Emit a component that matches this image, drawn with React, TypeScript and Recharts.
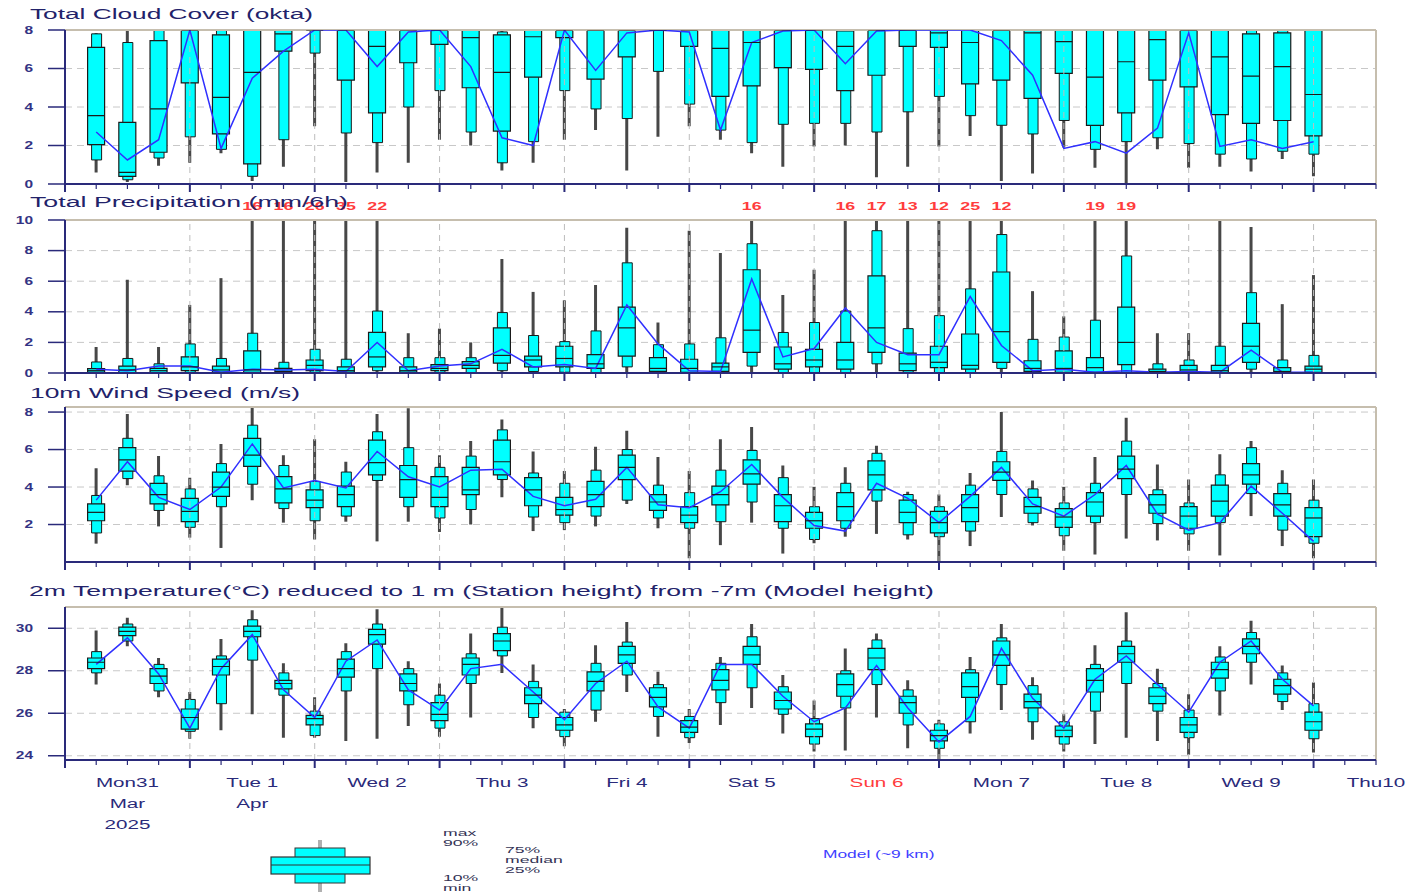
import { Bar, CartesianGrid, ComposedChart, Line, ReferenceLine, Scatter, XAxis, YAxis } from 'recharts';

const W = 1412;
const NAVY = '#2a2a7a';
const FRAME = '#c6beae';
const CYAN = '#00ffff';
const BLUE = '#3030ff';

// forecast steps (hours after Mon 31 Mar 00 UTC)
const hours = [
  6, 12, 18, 24, 30, 36, 42, 48, 54, 60, 66, 72, 78, 84, 90, 96, 102, 108, 114, 120,
  126, 132, 138, 144, 150, 156, 162, 168, 174, 180, 186, 192, 198, 204, 210, 216, 222, 228, 234, 240,
];
const hourTicks = Array.from({ length: 43 }, (_, i) => i * 6);
const dayBounds = [24, 48, 72, 96, 120, 144, 168, 192, 216, 240];
const dayNoon = [12, 36, 60, 84, 108, 132, 156, 180, 204, 228, 252];
const dayLabels = ['Mon31', 'Tue 1', 'Wed 2', 'Thu 3', 'Fri 4', 'Sat 5', 'Sun 6', 'Mon 7', 'Tue 8', 'Wed 9', 'Thu10'];
const extraLines: Record<string, string[]> = { Mon31: ['Mar', '2025'], 'Tue 1': ['Apr'] };
const redDays = ['Sun 6'];

// Total cloud cover (okta)
const cloudMin = [0.6, 0.1, 0.95, 1.1, 1.6, 0.15, 0.9, 3.0, 0.1, 0.6, 1.1, 2.3, 2.0, 0.7, 1.1, 2.3, 2.8, 0.7, 2.45, 3.0, 2.3, 1.6, 0.9, 1.95, 2.0, 0.35, 0.9, 1.95, 2.5, 0.15, 0.55, 1.9, 0.85, 0, 1.8, 0.85, 0.9, 0.65, 1.3, 0.4];
const cloudP10 = [1.25, 0.22, 1.35, 2.45, 1.8, 0.4, 2.3, 6.8, 2.65, 2.15, 4.0, 4.85, 2.7, 1.1, 2.2, 4.85, 3.9, 3.4, 5.85, 4.15, 2.8, 2.15, 3.1, 3.15, 3.15, 2.7, 3.75, 4.55, 3.55, 3.05, 2.6, 3.3, 1.8, 2.2, 2.4, 2.1, 1.55, 1.3, 1.7, 1.55];
const cloudP25 = [2.05, 0.4, 1.65, 5.25, 2.6, 1.05, 6.9, 8, 5.4, 3.7, 6.3, 7.25, 5.0, 2.75, 5.55, 7.6, 5.45, 6.6, 8, 7.15, 4.55, 5.1, 6.05, 5.95, 4.85, 5.65, 7.15, 7.1, 5.2, 5.4, 4.45, 5.75, 3.05, 3.7, 5.4, 5.05, 3.6, 3.15, 3.3, 2.5];
const cloudMed = [3.55, 0.6, 3.9, 8, 4.5, 5.8, 7.8, 8, 8, 7.15, 8, 8, 7.6, 5.8, 7.65, 8, 8, 8, 8, 8, 7.05, 7.35, 8, 8, 7.15, 8, 8, 7.85, 7.35, 8, 7.85, 7.4, 5.55, 6.35, 7.5, 8, 6.6, 5.6, 6.1, 4.65];
const cloudP75 = [7.1, 3.2, 7.45, 8, 7.75, 8, 8, 8, 8, 8, 8, 8, 8, 7.75, 8, 8, 8, 8, 8, 8, 8, 8, 8, 8, 7.95, 8, 8, 8, 8, 8, 8, 8, 8, 8, 8, 8, 8, 7.8, 7.85, 8];
const cloudP90 = [7.8, 7.35, 8, 8, 8, 8, 8, 8, 8, 8, 8, 8, 8, 7.9, 8, 8, 8, 8, 8, 8, 8, 8, 8, 8, 8, 8, 8, 8, 8, 8, 8, 8, 8, 8, 8, 8, 8, 8, 8, 8];
const cloudMax = [7.85, 8, 8, 8, 8, 8, 8, 8, 8, 8, 8, 8, 8, 8, 8, 8, 8, 8, 8, 8, 8, 8, 8, 8, 8, 8, 8, 8, 8, 8, 8, 8, 8, 8, 8, 8, 8, 8, 8, 8];
const cloudModel = [2.7, 1.25, 2.3, 8, 1.85, 5.5, 6.9, 8, 8, 6.1, 7.9, 8, 6.1, 2.4, 2.0, 8, 5.9, 7.85, 8, 7.9, 2.8, 7.35, 7.95, 8, 6.25, 7.95, 8, 8, 8, 7.45, 5.65, 1.85, 2.2, 1.6, 2.9, 7.85, 1.95, 2.3, 1.85, 2.2];

// Total precipitation (mm/6h)
const precMin = [0, 0, 0, 0, 0, 0, 0, 0, 0, 0, 0, 0, 0, 0, 0, 0, 0, 0, 0, 0, 0, 0, 0, 0, 0, 0, 0, 0, 0, 0, 0, 0, 0, 0, 0, 0, 0, 0, 0, 0];
const precP10 = [0, 0, 0, 0, 0, 0, 0, 0, 0, 0.15, 0, 0, 0, 0.15, 0.1, 0.05, 0, 0.4, 0, 0, 0, 0.45, 0, 0, 0, 0.6, 0, 0, 0, 0.3, 0, 0, 0, 0, 0, 0, 0, 0.25, 0, 0];
const precP25 = [0.05, 0.02, 0.02, 0.15, 0.05, 0.05, 0.02, 0.15, 0.05, 0.4, 0.05, 0.15, 0.3, 0.65, 0.4, 0.4, 0.3, 1.1, 0.1, 0.05, 0.1, 1.35, 0.25, 0.4, 0.25, 1.35, 0.15, 0.35, 0.25, 0.7, 0.1, 0.05, 0.05, 0.55, 0.02, 0.05, 0.02, 0.7, 0.02, 0.05];
const precMed = [0.15, 0.2, 0.15, 0.4, 0.2, 0.2, 0.1, 0.5, 0.15, 1.05, 0.15, 0.3, 0.5, 1.15, 0.85, 0.95, 0.6, 2.95, 0.3, 0.3, 0.4, 2.8, 0.6, 0.85, 0.85, 2.95, 0.6, 0.7, 0.5, 2.7, 0.3, 0.3, 0.35, 2.0, 0.1, 0.2, 0.15, 1.75, 0.1, 0.25];
const precP75 = [0.28, 0.45, 0.3, 1.05, 0.45, 1.45, 0.3, 0.85, 0.4, 2.65, 0.4, 0.55, 0.75, 2.95, 1.1, 1.75, 1.2, 4.3, 1.0, 0.9, 0.65, 6.75, 1.7, 1.55, 2.0, 6.35, 1.3, 1.75, 2.55, 6.6, 0.8, 1.45, 1.0, 4.3, 0.25, 0.5, 0.5, 3.25, 0.35, 0.45];
const precP90 = [0.72, 0.95, 0.6, 1.9, 0.95, 2.6, 0.7, 1.55, 0.9, 4.05, 1.0, 1.0, 1.0, 3.95, 2.45, 2.05, 2.75, 7.2, 1.85, 1.9, 2.3, 8.45, 2.65, 3.3, 4.05, 9.3, 2.9, 3.75, 5.5, 9.05, 2.2, 2.35, 3.45, 7.65, 0.6, 0.85, 1.75, 5.25, 0.85, 1.15];
const precMax = [1.7, 6.1, 1.7, 4.45, 6.2, 16, 16, 26, 35, 22, 2.6, 2.9, 2.0, 7.45, 5.3, 4.75, 5.75, 9.5, 3.3, 9.3, 7.85, 16, 5.1, 6.75, 16, 17, 13, 12, 25, 12, 5.35, 3.7, 19, 19, 2.6, 2.6, 10, 9.55, 4.5, 6.4];
const precModel = [0.25, 0.15, 0.45, 0.45, 0.05, 0.25, 0.2, 0.25, 0.1, 2.0, 0.15, 0.45, 0.6, 1.55, 0.4, 0.55, 0.3, 4.45, 1.9, 0.15, 0.1, 6.15, 1.05, 1.6, 4.25, 2.0, 1.2, 1.2, 5.0, 1.8, 0.15, 0.25, 0.05, 0.15, 0.05, 0.1, 0.05, 1.5, 0.05, 0.05];

// 10m wind speed (m/s)
const windMin = [0.98, 4.1, 1.9, 1.3, 0.75, 3.3, 2.1, 1.2, 2.15, 1.1, 2.15, 1.6, 2.0, 3.45, 1.65, 1.7, 1.9, 3.1, 1.8, 0.2, 0.9, 2.1, 0.45, 1.0, 1.35, 1.5, 1.2, 0, 0.85, 2.4, 1.95, 0.6, 0.4, 1.25, 1.15, 0.6, 0.35, 2.45, 0.85, 0.2];
const windP10 = [1.55, 4.45, 2.75, 1.85, 2.95, 4.15, 2.85, 2.2, 2.45, 4.35, 2.95, 2.35, 2.8, 4.4, 2.4, 2.1, 2.45, 3.3, 2.35, 1.8, 2.15, 3.2, 1.8, 1.2, 1.8, 3.25, 1.45, 1.35, 1.65, 3.6, 2.1, 1.4, 2.1, 3.6, 2.05, 1.5, 2.1, 3.65, 1.7, 1.0];
const windP25 = [2.2, 4.85, 3.1, 2.15, 3.5, 5.1, 3.15, 2.9, 2.95, 4.65, 3.45, 2.95, 3.6, 4.65, 3.0, 2.5, 2.95, 4.4, 2.75, 2.1, 3.05, 4.15, 2.15, 1.8, 2.2, 3.85, 2.1, 1.55, 2.15, 4.35, 2.6, 1.85, 2.45, 4.45, 2.6, 1.8, 2.45, 4.15, 2.45, 1.35];
const windMed = [2.65, 5.45, 3.6, 2.7, 4.0, 5.7, 3.9, 3.3, 3.6, 5.3, 4.4, 3.45, 3.85, 5.35, 3.85, 2.8, 3.6, 5.05, 3.2, 2.5, 3.6, 4.7, 3.0, 2.2, 2.95, 4.65, 2.65, 2.1, 2.9, 4.8, 2.95, 2.4, 3.2, 4.95, 3.05, 2.45, 3.25, 4.65, 3.05, 2.35];
const windP75 = [3.1, 6.1, 4.2, 3.4, 4.8, 6.6, 4.55, 3.85, 4.05, 6.5, 5.15, 4.55, 5.05, 6.5, 4.5, 3.45, 4.3, 5.7, 3.6, 2.95, 4.05, 5.45, 3.6, 2.65, 3.7, 5.4, 3.3, 2.7, 3.6, 5.35, 3.45, 2.85, 3.7, 5.65, 3.6, 2.95, 4.1, 5.25, 3.65, 2.9];
const windP90 = [3.55, 6.6, 4.6, 3.9, 5.25, 7.3, 5.15, 4.3, 4.8, 6.95, 6.1, 5.05, 5.65, 7.05, 4.75, 4.2, 4.9, 6.0, 4.1, 3.7, 4.9, 5.95, 4.5, 2.95, 4.2, 5.8, 3.6, 2.95, 4.1, 5.9, 3.9, 3.15, 4.2, 6.45, 3.85, 3.15, 4.65, 6.1, 4.2, 3.3];
const windMax = [5.0, 7.9, 5.65, 4.5, 6.3, 8.25, 5.7, 6.55, 5.35, 7.9, 8.2, 5.7, 6.45, 7.6, 5.9, 4.85, 6.15, 7.0, 5.6, 4.85, 6.55, 7.2, 5.15, 4.0, 5.05, 6.2, 3.75, 3.6, 4.75, 8.0, 4.35, 4.0, 5.6, 7.7, 5.2, 4.4, 5.75, 6.45, 4.9, 4.4];
const windModel = [3.3, 5.35, 3.45, 2.8, 4.0, 6.3, 3.95, 4.35, 3.95, 5.9, 4.55, 4.0, 4.9, 4.95, 3.5, 3.0, 3.35, 5.05, 3.05, 2.9, 3.75, 5.2, 3.45, 1.95, 1.65, 4.2, 3.4, 2.1, 3.5, 5.05, 3.1, 2.45, 3.6, 5.15, 2.55, 1.7, 2.1, 4.05, 2.6, 1.1];

// 2m temperature (°C)
const tempMin = [27.35, 29.15, 26.75, 24.8, 25.2, 25.95, 24.85, 24.85, 24.7, 24.8, 25.4, 24.9, 25.8, 27.9, 25.3, 24.45, 25.6, 27.0, 24.9, 24.6, 25.45, 26.25, 25.05, 24.2, 24.25, 25.8, 24.35, 23.8, 25.05, 26.15, 24.75, 24.2, 24.55, 24.85, 24.7, 24.05, 25.9, 27.35, 26.15, 24.15];
const tempP10 = [27.9, 29.4, 27.05, 25.15, 26.45, 28.5, 26.85, 24.95, 27.05, 28.1, 26.4, 25.3, 27.4, 28.7, 25.8, 24.9, 26.15, 27.8, 25.85, 24.85, 26.5, 27.2, 25.95, 24.55, 26.25, 27.35, 25.45, 24.35, 25.6, 27.35, 25.6, 24.55, 26.1, 27.4, 26.1, 24.85, 27.05, 28.4, 26.55, 24.8];
const tempP25 = [28.1, 29.65, 27.4, 25.25, 27.8, 29.6, 27.15, 25.45, 27.7, 29.25, 27.05, 25.65, 27.8, 28.95, 26.45, 25.2, 27.05, 28.35, 26.3, 25.1, 27.1, 28.3, 26.2, 24.9, 26.8, 28.05, 26.0, 24.7, 26.75, 28.25, 26.25, 24.9, 27.0, 28.4, 26.45, 25.1, 27.65, 28.8, 26.9, 25.2];
const tempMed = [28.4, 29.85, 27.75, 25.8, 28.2, 29.85, 27.4, 25.75, 28.1, 29.7, 27.4, 25.95, 28.3, 29.4, 26.85, 25.45, 27.5, 28.75, 26.75, 25.35, 27.55, 28.75, 26.6, 25.25, 27.35, 28.6, 26.5, 24.95, 27.25, 28.75, 26.55, 25.2, 27.55, 28.8, 26.8, 25.45, 28.05, 29.15, 27.3, 25.6];
const tempP75 = [28.6, 30.05, 28.1, 26.2, 28.55, 30.1, 27.55, 25.9, 28.55, 29.95, 27.85, 26.5, 28.6, 29.75, 27.2, 25.8, 27.95, 29.15, 27.2, 25.65, 28.05, 29.15, 27.0, 25.5, 27.85, 29.05, 26.8, 25.2, 27.9, 29.4, 26.9, 25.4, 28.1, 29.15, 27.2, 25.8, 28.4, 29.5, 27.6, 26.05];
const tempP90 = [28.9, 30.2, 28.3, 26.65, 28.7, 30.4, 27.9, 26.1, 28.9, 30.2, 28.1, 26.85, 28.8, 30.05, 27.5, 26.05, 28.35, 29.35, 27.35, 25.85, 28.35, 29.6, 27.25, 25.75, 28.0, 29.45, 27.1, 25.5, 28.05, 29.55, 27.3, 25.6, 28.3, 29.4, 27.4, 26.15, 28.65, 29.8, 27.9, 26.45];
const tempMax = [29.9, 30.5, 28.6, 27.0, 29.5, 30.85, 28.35, 26.75, 29.3, 30.9, 28.45, 27.4, 29.75, 31.0, 28.3, 26.2, 29.2, 30.3, 27.95, 26.2, 28.65, 30.2, 27.8, 26.6, 29.05, 29.75, 27.55, 25.7, 28.65, 30.2, 27.7, 25.95, 29.2, 30.75, 28.1, 26.9, 29.15, 30.35, 28.25, 27.45];
const tempModel = [28.3, 29.55, 27.85, 25.3, 28.1, 29.7, 27.1, 25.8, 28.45, 29.45, 27.1, 26.15, 28.1, 28.3, 27.0, 25.7, 27.4, 28.45, 26.3, 25.3, 28.3, 28.3, 26.8, 25.6, 26.25, 28.25, 26.25, 24.65, 25.85, 29.05, 26.7, 25.3, 27.6, 28.7, 27.35, 26.05, 28.4, 29.4, 27.6, 26.35];

const cloudTicks = [0, 2, 4, 6, 8];
const precTicks = [0, 2, 4, 6, 8, 10];
const windTicks = [2, 4, 6, 8];
const tempTicks = [24, 26, 28, 30];

type Stats = {
  min: number[]; p10: number[]; p25: number[]; med: number[];
  p75: number[]; p90: number[]; max: number[]; model: number[];
};

type Row = { t: number; min: number; p10: number; p25: number; med: number; p75: number; p90: number; max: number; model: number };

const toRows = (s: Stats): Row[] =>
  hours.map((t, i) => ({
    t, min: s.min[i], p10: s.p10[i], p25: s.p25[i], med: s.med[i],
    p75: s.p75[i], p90: s.p90[i], max: s.max[i], model: s.model[i],
  }));

function HourTick(props: any) {
  const { x, y, payload, showDays } = props;
  const v = payload.value as number;
  const major = v % 24 === 0;
  const idx = dayNoon.indexOf(v);
  const label = idx >= 0 ? dayLabels[idx] : null;
  const color = label && redDays.includes(label) ? '#ff3c3c' : NAVY;
  const lines = label ? [label, ...(extraLines[label] ?? [])] : [];
  return (
    <g>
      <line x1={x} x2={x} y1={y} y2={y + (major ? 8 : 5)} stroke={NAVY} strokeWidth={major ? 2 : 1.2} />
      {showDays &&
        lines.map((l, k) => (
          <text
            key={l}
            transform={`translate(${x},${y + 27 + k * 21}) scale(1.65,1)`}
            textAnchor="middle"
            fontSize={12.5}
            fill={k === 0 ? color : NAVY}
          >
            {l}
          </text>
        ))}
    </g>
  );
}

function ValueTick(props: any) {
  const { x, y, payload } = props;
  return (
    <text transform={`translate(${x},${y + 3.5}) scale(1.55,1)`} textAnchor="end" fontSize={10} fontWeight="bold" fill="#333384">
      {payload.value}
    </text>
  );
}

function MedianMark(props: any) {
  const { cx, cy } = props;
  return <line x1={cx - 8.5} x2={cx + 8.5} y1={cy} y2={cy} stroke="#1a1a1a" strokeWidth={1.2} />;
}

function OverflowLabel(props: any) {
  const { cx, cy, payload } = props;
  return (
    <text transform={`translate(${cx},${cy - 10}) scale(1.7,1)`} textAnchor="middle" fontSize={10.5} fontWeight="bold" fill="#ff3c3c">
      {payload.label}
    </text>
  );
}

type PanelProps = {
  top: number;
  height: number;
  marginTop: number;
  axisHeight: number;
  domain: [number, number];
  ticks: number[];
  stats: Stats;
  overflowAt?: number;
  showDays?: boolean;
};

function Panel({ top, height, marginTop, axisHeight, domain, ticks, stats, overflowAt, showDays }: PanelProps) {
  const rows = toRows(stats);
  const labels =
    overflowAt === undefined
      ? []
      : rows.filter((r) => r.max > overflowAt).map((r) => ({ t: r.t, v: overflowAt, label: String(Math.round(r.max)) }));

  return (
    <div style={{ position: 'absolute', left: 0, top, width: W, height }}>
      <ComposedChart width={W} height={height} data={rows} margin={{ top: marginTop, right: 36, bottom: 0, left: 0 }}>
        <CartesianGrid vertical={false} stroke="#c8c8c8" strokeDasharray="7 5" />
        {dayBounds.map((d) => (
          <ReferenceLine key={d} x={d} stroke="#bdbdbd" strokeDasharray="6 5" />
        ))}
        <ReferenceLine y={domain[1]} stroke={FRAME} strokeWidth={2} />
        <ReferenceLine x={252} stroke={FRAME} strokeWidth={2} />
        <XAxis
          dataKey="t"
          type="number"
          domain={[0, 252]}
          ticks={hourTicks}
          interval={0}
          tickSize={0}
          tickMargin={0}
          tickLine={false}
          height={axisHeight}
          axisLine={{ stroke: NAVY, strokeWidth: 2 }}
          tick={(p: any) => <HourTick {...p} showDays={showDays} />}
        />
        <XAxis xAxisId="whisker" dataKey="t" type="number" domain={[0, 252]} hide />
        <XAxis xAxisId="outer" dataKey="t" type="number" domain={[0, 252]} hide />
        <XAxis xAxisId="inner" dataKey="t" type="number" domain={[0, 252]} hide />
        <YAxis
          type="number"
          domain={domain}
          ticks={ticks}
          interval={0}
          allowDataOverflow
          width={65}
          tickSize={17}
          tickMargin={15}
          axisLine={{ stroke: NAVY, strokeWidth: 2 }}
          tickLine={{ stroke: NAVY, strokeWidth: 1.5 }}
          tick={<ValueTick />}
        />
        {overflowAt !== undefined && <YAxis yAxisId="lab" type="number" domain={domain} hide />}
        <Bar xAxisId="whisker" dataKey={(d: Row) => [d.min, d.max]} barSize={3} fill="#474747" isAnimationActive={false} />
        <Bar
          xAxisId="outer"
          dataKey={(d: Row) => [d.p10, d.p90]}
          barSize={10}
          fill={CYAN}
          stroke="#1a1a1a"
          strokeWidth={1}
          isAnimationActive={false}
        />
        <Bar
          xAxisId="inner"
          dataKey={(d: Row) => [d.p25, d.p75]}
          barSize={17}
          fill={CYAN}
          stroke="#1a1a1a"
          strokeWidth={1.2}
          isAnimationActive={false}
        />
        <Scatter dataKey="med" shape={<MedianMark />} isAnimationActive={false} />
        <Line dataKey="model" stroke={BLUE} strokeWidth={1.5} dot={false} isAnimationActive={false} />
        {overflowAt !== undefined && (
          <Scatter data={labels} dataKey="v" yAxisId="lab" shape={<OverflowLabel />} isAnimationActive={false} />
        )}
      </ComposedChart>
    </div>
  );
}

const cloud: Stats = { min: cloudMin, p10: cloudP10, p25: cloudP25, med: cloudMed, p75: cloudP75, p90: cloudP90, max: cloudMax, model: cloudModel };
const prec: Stats = { min: precMin, p10: precP10, p25: precP25, med: precMed, p75: precP75, p90: precP90, max: precMax, model: precModel };
const wind: Stats = { min: windMin, p10: windP10, p25: windP25, med: windMed, p75: windP75, p90: windP90, max: windMax, model: windModel };
const temp: Stats = { min: tempMin, p10: tempP10, p25: tempP25, med: tempMed, p75: tempP75, p90: tempP90, max: tempMax, model: tempModel };

const titleStyle = { fontSize: 15.5, fill: '#22226a' };

function Legend() {
  const small = (text: string, x: number, y: number) => (
    <text transform={`translate(${x},${y}) scale(2.1,1)`} fontSize={8.4} fill="#333355">
      {text}
    </text>
  );
  return (
    <g>
      <line x1={320} x2={320} y1={840} y2={892} stroke="#b0b0b0" strokeWidth={4} />
      <rect x={295} y={848} width={50} height={35} fill={CYAN} stroke="#333" strokeWidth={1} />
      <rect x={271} y={857} width={99} height={17} fill={CYAN} stroke="#333" strokeWidth={1.2} />
      <line x1={271} x2={370} y1={865} y2={865} stroke="#333" strokeWidth={1.2} />
      {small('max', 443, 836)}
      {small('90%', 443, 846)}
      {small('75%', 505, 853)}
      {small('median', 505, 863)}
      {small('25%', 505, 873)}
      {small('10%', 443, 881)}
      {small('min', 443, 891)}
      <text transform="translate(823,858) scale(1.58,1)" fontSize={11} fill="#4040ff">
        Model (~9 km)
      </text>
    </g>
  );
}

export default function App() {
  return (
    <div
      style={{
        position: 'absolute',
        left: 0,
        top: 0,
        width: W,
        height: 893,
        background: '#fff',
        fontFamily: '"Liberation Sans", Arial, sans-serif',
        overflow: 'hidden',
      }}
    >
      <Panel top={0} height={196} marginTop={30} axisHeight={12} domain={[0, 8]} ticks={cloudTicks} stats={cloud} />
      <Panel top={200} height={185} marginTop={20} axisHeight={12} domain={[0, 10]} ticks={precTicks} stats={prec} overflowAt={10} />
      <Panel top={395} height={179} marginTop={12} axisHeight={12} domain={[0, 8.27]} ticks={windTicks} stats={wind} />
      <Panel top={598} height={242} marginTop={9} axisHeight={80} domain={[23.8, 31]} ticks={tempTicks} stats={temp} showDays />
      <svg width={W} height={893} style={{ position: 'absolute', left: 0, top: 0, pointerEvents: 'none' }}>
        <text x={30} y={18.5} textLength={283} lengthAdjust="spacingAndGlyphs" {...titleStyle}>
          Total Cloud Cover (okta)
        </text>
        <text x={30} y={207} textLength={318} lengthAdjust="spacingAndGlyphs" {...titleStyle}>
          Total Precipitation (mm/6h)
        </text>
        <text x={30} y={398} textLength={270} lengthAdjust="spacingAndGlyphs" {...titleStyle}>
          10m Wind Speed (m/s)
        </text>
        <text x={29} y={596} textLength={905} lengthAdjust="spacingAndGlyphs" {...titleStyle}>
          2m Temperature(°C) reduced to 1 m (Station height) from -7m (Model height)
        </text>
        <Legend />
      </svg>
    </div>
  );
}
